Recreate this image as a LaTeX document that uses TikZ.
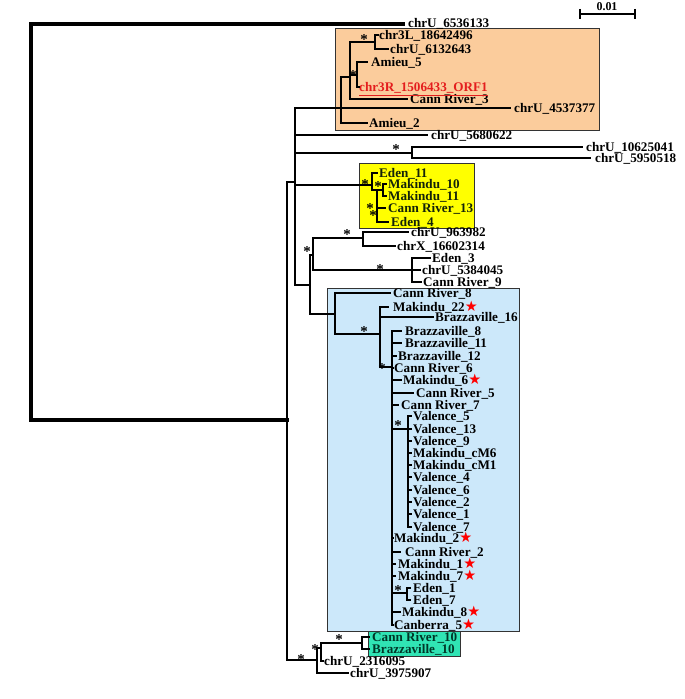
\documentclass[tikz,border=0pt]{standalone}
\usepackage{fontspec}
\setmainfont{Liberation Serif}
\newfontfamily\symfont{DejaVu Sans}
\definecolor{orangebox}{RGB}{251,204,156}
\definecolor{yellowbox}{RGB}{255,255,0}
\definecolor{bluebox}{RGB}{204,232,250}
\definecolor{greenbox}{RGB}{48,228,180}
\definecolor{redtext}{RGB}{228,30,30}
\definecolor{ytext}{RGB}{20,35,10}
\definecolor{gtext}{RGB}{0,55,40}
\tikzset{
  br/.style={line width=2bp, line cap=rect, line join=miter},
  rootbr/.style={line width=3.3bp, line cap=rect, line join=miter},
  leaf/.style={anchor=base west, inner sep=0pt, yshift=-4.5bp, font=\fontsize{13.2}{14}\selectfont\bfseries},
  ast/.style={anchor=base, inner sep=0pt, yshift=-7.5bp, font=\fontsize{15}{15}\selectfont\bfseries},
  cladebox/.style={draw=black!80, line width=0.8bp},
}
\newcommand\rs{{\symfont\mdseries\fontsize{14.5}{14}\selectfont\textcolor{red}{★}}}
% parent, name, x of branch end, y, x of text, text
\newcommand\phyleaf[6]{\coordinate (#2e) at (#3,#4);
  \node[leaf] (#2) at (#5,#4) {#6};
  \draw[br] (#1) |- (#2e);}
\newcommand\inner[4]{\coordinate (#2) at (#3,#4); \draw[br] (#1) |- (#2);}
\begin{document}
\begin{tikzpicture}[x=1bp, y=-1bp]
\useasboundingbox (0,0) rectangle (685,699);
% clade boxes
\draw[cladebox, fill=orangebox] (335,28) rectangle (599,130);
\draw[cladebox, fill=yellowbox] (359,163) rectangle (474,228);
\draw[cladebox, fill=bluebox] (327,288) rectangle (519,631);
\draw[cladebox, fill=greenbox] (368,631) rectangle (460,656);
% root
\coordinate (root) at (31,222);
\coordinate (n286) at (287,420);
\draw[rootbr] (root) |- (n286);
\coordinate (T1e) at (403,24);
\draw[rootbr] (root) |- (T1e);
\node[leaf] (T1) at (408,23) {chrU\_6536133};
% main nodes
\inner{n286}{n296}{295}{182}
% orange clade
\inner{n296}{nO}{341}{108}
\phyleaf{nO}{U4537377}{510}{108}{514}{chrU\_4537377}
\phyleaf{nO}{Amieu2}{367}{123}{369}{Amieu\_2}
\inner{nO}{nO1}{350}{77}
\phyleaf{nO1}{CR3}{407}{99}{410}{Cann River\_3}
\inner{nO1}{nO2}{375}{42}
\phyleaf{nO2}{chr3L}{378}{35}{379}{chr3L\_18642496}
\phyleaf{nO2}{U6132643}{388}{49}{390}{chrU\_6132643}
\inner{nO1}{nO3}{357}{75}
\phyleaf{nO3}{Amieu5}{367}{62}{371}{Amieu\_5}
\phyleaf{nO3}{chr3R}{359}{87}{359}{\textcolor{redtext}{\underline{chr3R\_1506433\_ORF1}}}
% single branches
\phyleaf{n296}{U5680622}{427}{135}{431}{chrU\_5680622}
\inner{n296}{nC}{412}{153}
\phyleaf{nC}{U10625041}{582}{147}{586}{chrU\_10625041}
\phyleaf{nC}{U5950518}{590}{158}{595}{chrU\_5950518}
% yellow clade
\begin{scope}[every node/.append style={text=ytext}]
\inner{n296}{nY0}{372}{185}
\phyleaf{nY0}{Eden11}{377}{173}{379}{Eden\_11}
\inner{nY0}{nY1}{377}{190}
\inner{nY1}{nYM}{383}{190}
\phyleaf{nYM}{Mak10}{386}{184}{388}{Makindu\_10}
\phyleaf{nYM}{Mak11}{386}{196}{388}{Makindu\_11}
\phyleaf{nY1}{CR13}{385}{208}{388}{Cann River\_13}
\phyleaf{nY1}{Eden4}{388}{222}{391}{Eden\_4}
\end{scope}
% lower clade
\inner{n296}{nL0}{310}{285}
\inner{nL0}{nL1}{313}{255}
\inner{nL1}{nL2}{363}{238}
\phyleaf{nL2}{U963982}{408}{232}{411}{chrU\_963982}
\phyleaf{nL2}{X16602314}{395}{246}{397}{chrX\_16602314}
\inner{nL1}{nL3}{412}{270}
\phyleaf{nL3}{Eden3}{430}{258}{432}{Eden\_3}
\phyleaf{nL3}{U5384045}{420}{270}{422}{chrU\_5384045}
\phyleaf{nL3}{CR9}{421}{282}{423}{Cann River\_9}
% blue clade
\inner{nL0}{nB0}{335}{314}
\phyleaf{nB0}{CR8}{390}{293}{393}{Cann River\_8}
\inner{nB0}{nB1}{380}{334}
\phyleaf{nB1}{Mak22}{388}{307}{393}{Makindu\_22\rs}
\phyleaf{nB1}{Bz16}{433}{317}{435}{Brazzaville\_16}
\inner{nB1}{nB2}{392}{367}
\phyleaf{nB2}{Bz8}{401}{331}{405}{Brazzaville\_8}
\phyleaf{nB2}{Bz11}{401}{343}{405}{Brazzaville\_11}
\phyleaf{nB2}{Bz12}{396}{356}{398}{Brazzaville\_12}
\phyleaf{nB2}{CR6}{393}{368}{394}{Cann River\_6}
\phyleaf{nB2}{Mak6}{401}{380}{403}{Makindu\_6\rs}
\phyleaf{nB2}{CR5}{413}{393}{416}{Cann River\_5}
\phyleaf{nB2}{CR7}{398}{405}{401}{Cann River\_7}
\inner{nB2}{nV}{408}{429}
\phyleaf{nV}{V5}{411}{416}{413}{Valence\_5}
\phyleaf{nV}{V13}{411}{429}{413}{Valence\_13}
\phyleaf{nV}{V9}{411}{441}{413}{Valence\_9}
\phyleaf{nV}{McM6}{411}{453}{413}{Makindu\_cM6}
\phyleaf{nV}{McM1}{411}{465}{413}{Makindu\_cM1}
\phyleaf{nV}{V4}{411}{477}{413}{Valence\_4}
\phyleaf{nV}{V6}{411}{490}{413}{Valence\_6}
\phyleaf{nV}{V2}{411}{502}{413}{Valence\_2}
\phyleaf{nV}{V1}{411}{514}{413}{Valence\_1}
\phyleaf{nV}{V7}{411}{527}{413}{Valence\_7}
\phyleaf{nB2}{Mak2}{393}{538}{394}{Makindu\_2\rs}
\phyleaf{nB2}{CR2}{400}{552}{405}{Cann River\_2}
\phyleaf{nB2}{Mak1}{395}{564}{398}{Makindu\_1\rs}
\phyleaf{nB2}{Mak7}{395}{576}{398}{Makindu\_7\rs}
\inner{nB2}{nE}{407}{593}
\phyleaf{nE}{Eden1}{410}{588}{413}{Eden\_1}
\phyleaf{nE}{Eden7}{410}{600}{413}{Eden\_7}
\phyleaf{nB2}{Mak8}{400}{612}{402}{Makindu\_8\rs}
\phyleaf{nB2}{Can5}{393}{625}{394}{Canberra\_5\rs}
% bottom clade
\inner{n286}{nR1}{317}{660}
\phyleaf{nR1}{U3975907}{348}{673}{350}{chrU\_3975907}
\inner{nR1}{nR2}{321}{648}
\phyleaf{nR2}{U2316095}{323}{661}{324}{chrU\_2316095}
\inner{nR2}{nR3}{362}{643}
\begin{scope}[every node/.append style={text=gtext}]
\phyleaf{nR3}{CR10}{369}{637}{372}{Cann River\_10}
\phyleaf{nR3}{Bz10}{369}{649}{372}{Brazzaville\_10}
\end{scope}
% support asterisks
\foreach \i/\ax/\ay in {1/364/37, 2/353/73, 3/396/147, 4/365/182, 5/378/184, 6/370/206, 7/373/213,
  8/347/232, 9/307/249, 10/380/267, 11/364/329, 12/382/366, 13/398/423, 14/398/588,
  15/301/657, 16/315/647, 17/339/637}
  \node[ast] (ast\i) at (\ax,\ay) {*};
% scale bar
\coordinate (sbL) at (580,14);
\coordinate (sbR) at (635,14);
\draw[br, line cap=butt] (sbL) -- (sbR);
\draw[br, line cap=butt] ([yshift=5bp]sbL) -- ([yshift=-5bp]sbL);
\draw[br, line cap=butt] ([yshift=5bp]sbR) -- ([yshift=-5bp]sbR);
\node[anchor=base, inner sep=0pt, font=\fontsize{12}{12}\selectfont\bfseries] (sblabel) at (607,11) {0.01};
\end{tikzpicture}
\end{document}
